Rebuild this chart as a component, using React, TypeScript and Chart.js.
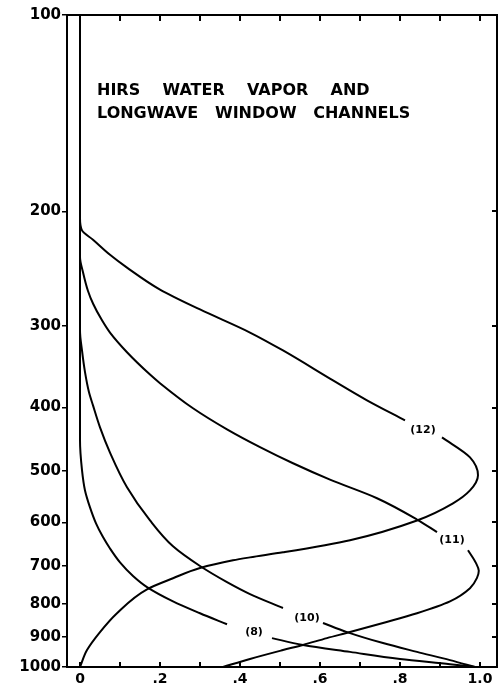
import React, { useEffect, useRef } from "react";
import { Chart, registerables } from "chart.js";

Chart.register(...registerables);

// ---- axis ticks ----
const X_TICKS = [0, 0.2, 0.4, 0.6, 0.8, 1.0];
const X_TICK_LABELS = ["0", ".2", ".4", ".6", ".8", "1.0"];
const X_MINOR_TICKS = [0, 0.1, 0.2, 0.3, 0.4, 0.5, 0.6, 0.7, 0.8, 0.9, 1.0];
const P_TICKS = [100, 200, 300, 400, 500, 600, 700, 800, 900, 1000];
const P_TICK_LABELS = ["100", "200", "300", "400", "500", "600", "700", "800", "900", "1000"];

// ---- curves (x = weighting, p = pressure hPa); null marks the gap at the label ----
const CH12_P = [100, 205, 214, 221.1, 233.2, 244, 263.7, 282.9, 306.9, 327, 363.5, 390, 418.6, 433, 444.5, 477, 508, 536, 561, 596, 639, 667, 679, 686, 705, 731, 760, 827, 884, 942, 1000];
const CH12_X = [0, 0, 0.005, 0.0325, 0.075, 0.1175, 0.2, 0.3, 0.425, 0.5075, 0.6325, 0.7175, 0.8125, null, 0.905, 0.975, 0.995, 0.975, 0.9325, 0.8425, 0.675, 0.5075, 0.425, 0.3825, 0.3, 0.2325, 0.1675, 0.0925, 0.05, 0.0175, 0];

const CH11_P = [100, 235, 248, 265, 277, 294, 307, 329, 356, 367, 401, 432, 460, 487, 516, 551, 594, 621, 639, 662, 693, 712, 730, 757, 793, 827, 856, 884, 903, 925, 942, 972, 1000];
const CH11_X = [0, 0, 0.0075, 0.02, 0.0325, 0.055, 0.075, 0.1175, 0.175, 0.2, 0.2825, 0.3675, 0.45, 0.5325, 0.625, 0.7425, 0.8425, 0.8925, null, 0.97, 0.99, 0.997, 0.9925, 0.975, 0.925, 0.8425, 0.7575, 0.675, 0.6175, 0.5575, 0.5075, 0.425, 0.3575];

const CH10_P = [100, 305, 327, 353, 379, 397, 429, 469, 530, 596, 653, 700, 741, 773, 812, 841, 856, 884, 919, 948, 976, 1000];
const CH10_X = [0, 0, 0.005, 0.0125, 0.0225, 0.0325, 0.05, 0.075, 0.1175, 0.175, 0.2325, 0.3, 0.3675, 0.425, 0.5075, null, 0.6075, 0.6675, 0.7575, 0.8425, 0.925, 0.9875];

const CH8_P = [100, 449, 499, 536, 569, 602, 632, 658, 691, 725, 754, 793, 827, 860, 884, 903, 925, 948, 972, 990, 1000];
const CH8_X = [0, 0, 0.005, 0.0125, 0.025, 0.04, 0.0575, 0.075, 0.1, 0.1325, 0.1675, 0.2325, 0.3, 0.3675, null, 0.48, 0.5575, 0.675, 0.8, 0.925, 0.9875];

// ---- curve labels ----
const CURVE_LABELS = ["(12)", "(11)", "(10)", "(8)"];
const CURVE_LABEL_X = [0.8575, 0.93, 0.5675, 0.435];
const CURVE_LABEL_P = [433, 639, 841, 884];

// ---- title text ----
const TITLE_LINES = ["HIRS    WATER    VAPOR    AND", "LONGWAVE   WINDOW   CHANNELS"];
const TITLE_X = 0.0425;
const TITLE_P = [132.6, 143.8];

const toPoints = (xs: (number | null)[], ps: number[]) =>
  ps.map((p, i) => ({ x: xs[i], y: p }));

const decorPlugin = {
  id: "decor",
  afterDatasetsDraw(chart: any) {
    const { ctx, chartArea: a, scales } = chart;
    const xs = scales.x;
    const ys = scales.y;
    ctx.save();
    ctx.strokeStyle = "#000";
    ctx.lineWidth = 2;
    ctx.strokeRect(a.left, a.top, a.right - a.left, a.bottom - a.top);
    ctx.beginPath();
    X_MINOR_TICKS.forEach((v) => {
      const px = Math.round(xs.getPixelForValue(v));
      ctx.moveTo(px, a.top);
      ctx.lineTo(px, a.top + 6);
      ctx.moveTo(px, a.bottom);
      ctx.lineTo(px, a.bottom - 5);
    });
    P_TICKS.forEach((v) => {
      const py = Math.round(ys.getPixelForValue(v));
      ctx.moveTo(a.right, py);
      ctx.lineTo(a.right - 5, py);
    });
    ctx.stroke();

    ctx.fillStyle = "#000";
    ctx.font = 'bold 11px "DejaVu Sans"';
    ctx.textAlign = "center";
    ctx.textBaseline = "middle";
    CURVE_LABELS.forEach((t, i) => {
      ctx.fillText(t, xs.getPixelForValue(CURVE_LABEL_X[i]), ys.getPixelForValue(CURVE_LABEL_P[i]));
    });

    ctx.font = 'bold 16px "DejaVu Sans"';
    ctx.textAlign = "left";
    ctx.textBaseline = "alphabetic";
    TITLE_LINES.forEach((t, i) => {
      ctx.fillText(t, xs.getPixelForValue(TITLE_X), ys.getPixelForValue(TITLE_P[i]));
    });
    ctx.restore();
  },
};

export default function App() {
  const canvasRef = useRef<HTMLCanvasElement | null>(null);

  useEffect(() => {
    if (!canvasRef.current) return;
    const lineStyle = {
      borderColor: "#000",
      borderWidth: 2,
      pointRadius: 0,
      fill: false,
      cubicInterpolationMode: "monotone" as const,
      spanGaps: false,
    };
    const chart = new Chart(canvasRef.current, {
      type: "line",
      data: {
        datasets: [
          { label: "(12)", data: toPoints(CH12_X, CH12_P), ...lineStyle },
          { label: "(11)", data: toPoints(CH11_X, CH11_P), ...lineStyle },
          { label: "(10)", data: toPoints(CH10_X, CH10_P), ...lineStyle },
          { label: "(8)", data: toPoints(CH8_X, CH8_P), ...lineStyle },
        ] as any,
      },
      options: {
        indexAxis: "y",
        responsive: false,
        animation: false,
        events: [],
        layout: { padding: { top: 15, right: 5, left: 0, bottom: 0 } },
        plugins: {
          legend: { display: false },
          tooltip: { enabled: false },
          title: { display: false },
        },
        scales: {
          x: {
            type: "linear",
            position: "bottom",
            min: -0.0325,
            max: 1.0425,
            afterBuildTicks: (scale: any) => {
              scale.ticks = X_TICKS.map((v) => ({ value: v }));
            },
            afterFit: (scale: any) => {
              scale.height = 20;
            },
            grid: { display: false, drawTicks: false },
            border: { display: false },
            ticks: {
              color: "#000",
              padding: 4,
              maxRotation: 0,
              autoSkip: false,
              font: { family: '"DejaVu Sans"', size: 14, weight: "bold" },
              callback: (_v: any, i: number) => X_TICK_LABELS[i],
            },
          },
          y: {
            type: "logarithmic",
            position: "left",
            reverse: true,
            min: 100,
            max: 1000,
            afterBuildTicks: (scale: any) => {
              scale.ticks = P_TICKS.map((v) => ({ value: v }));
            },
            afterFit: (scale: any) => {
              scale.width = 67;
            },
            grid: {
              drawOnChartArea: false,
              drawTicks: true,
              tickLength: 5,
              color: "#000",
              lineWidth: 1.5,
            },
            border: { display: false },
            ticks: {
              color: "#000",
              padding: 1,
              autoSkip: false,
              font: { family: '"DejaVu Sans"', size: 15, weight: "bold" },
              callback: (_v: any, i: number) => P_TICK_LABELS[i],
            },
          },
        },
      } as any,
      plugins: [decorPlugin],
    });
    return () => chart.destroy();
  }, []);

  return (
    <div style={{ position: "absolute", left: 0, top: 0, width: 502, height: 687, background: "#fff" }}>
      <canvas ref={canvasRef} width={502} height={687} style={{ display: "block" }} />
    </div>
  );
}
